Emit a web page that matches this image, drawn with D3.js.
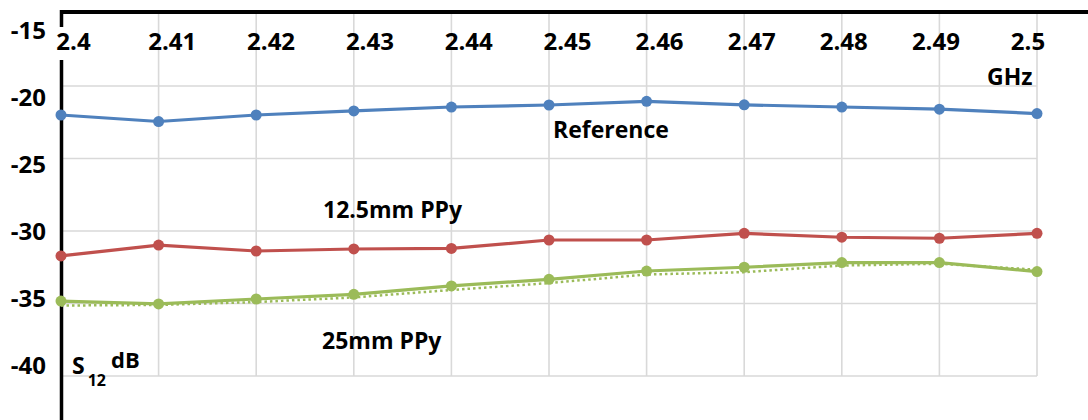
<!DOCTYPE html>
<html>
<head>
<meta charset="utf-8">
<script src="https://cdn.jsdelivr.net/npm/d3@7"></script>
<style>
  html, body { margin: 0; padding: 0; background: #fff; }
  svg { display: block; }
  text { font-family: "Open Sans", "Liberation Sans", sans-serif; font-weight: 700; fill: #000; }
</style>
</head>
<body>
<svg id="chart" width="1088" height="420"></svg>
<script>
// Frequency sweep (GHz) and S12 transmission (dB) for three samples
const freqs = [2.40, 2.41, 2.42, 2.43, 2.44, 2.45, 2.46, 2.47, 2.48, 2.49, 2.50];
const xTickLabels = ["2.4", "2.41", "2.42", "2.43", "2.44", "2.45", "2.46", "2.47", "2.48", "2.49", "2.5"];
const yTicks = [-15, -20, -25, -30, -35, -40];
const yTickLabels = ["-15", "-20", "-25", "-30", "-35", "-40"];

const reference = [-22.0, -22.45, -22.0, -21.72, -21.45, -21.31, -21.06, -21.3, -21.45, -21.6, -21.9];
const ppy12_5mm = [-31.72, -30.97, -31.38, -31.24, -31.2, -30.62, -30.62, -30.16, -30.43, -30.5, -30.16];
const ppy25mm = [-34.83, -35.03, -34.69, -34.37, -33.79, -33.33, -32.76, -32.5, -32.18, -32.18, -32.8];
const ppy25mmTrend = [-35.14, -35.1, -34.9, -34.58, -34.07, -33.59, -33.0, -32.84, -32.38, -32.26, -32.67];

const seriesLabels = ["Reference", "12.5mm PPy", "25mm PPy"];

const svg = d3.select("#chart");

const x = d3.scaleLinear().domain([2.4, 2.5]).range([61, 1037]);
const y = d3.scaleLinear().domain([-40, -15]).range([376, 13.5]);

// tick labels sit on their own, slightly tighter spacing
const xLabel = d3.scaleLinear().domain([2.4, 2.45, 2.5]).range([73.5, 567.5, 1028]);
const yLabel = d3.scaleLinear().domain([-40, -15]).range([365, 30]);

const grid = svg.append("g").attr("stroke", "#d9d9d9").attr("stroke-width", 1.6);
grid.selectAll("line.v").data(freqs).join("line")
  .attr("class", "v")
  .attr("x1", d => x(d)).attr("x2", d => x(d))
  .attr("y1", y(-15)).attr("y2", y(-40));
grid.selectAll("line.h").data(yTicks.filter(d => d !== -15)).join("line")
  .attr("class", "h")
  .attr("x1", x(2.4)).attr("x2", x(2.5))
  .attr("y1", d => y(d)).attr("y2", d => y(d));

// black frame lines
svg.append("line").attr("x1", 61.5).attr("x2", 1088).attr("y1", 12).attr("y2", 12)
  .attr("stroke", "#000").attr("stroke-width", 4);
svg.append("line").attr("x1", 61.5).attr("x2", 61.5).attr("y1", 10).attr("y2", 420)
  .attr("stroke", "#000").attr("stroke-width", 3.5);

// x tick labels (first one has a white backing that interrupts the axis)
const xt = svg.append("g").attr("font-size", 24);
xt.selectAll("text").data(freqs).join("text")
  .attr("x", d => xLabel(d)).attr("y", 50)
  .attr("text-anchor", "middle")
  .text((d, i) => xTickLabels[i]);
const first = xt.select("text").node().getBBox();
xt.insert("rect", "text")
  .attr("x", first.x - 3).attr("y", 27).attr("width", first.width + 5).attr("height", 33)
  .attr("fill", "#fff");

// y tick labels
svg.append("g").attr("font-size", 24).selectAll("text").data(yTicks).join("text")
  .attr("x", 46).attr("y", d => yLabel(d)).attr("dy", "0.36em")
  .attr("text-anchor", "end")
  .text((d, i) => yTickLabels[i]);

const line = d3.line().x((d, i) => x(freqs[i])).y(d => y(d));

// dotted trend for the 25mm sample
svg.append("path").datum(ppy25mmTrend)
  .attr("d", line).attr("fill", "none")
  .attr("stroke", "#9BBB59").attr("stroke-width", 2.5)
  .attr("stroke-dasharray", "2.5,3");

const series = [
  { values: reference, color: "#4F81BD" },
  { values: ppy12_5mm, color: "#C0504D" },
  { values: ppy25mm, color: "#9BBB59" }
];

series.forEach(s => {
  const g = svg.append("g");
  g.append("path").datum(s.values)
    .attr("d", line).attr("fill", "none")
    .attr("stroke", s.color).attr("stroke-width", 3.2)
    .attr("stroke-linejoin", "round");
  g.selectAll("circle").data(s.values).join("circle")
    .attr("cx", (d, i) => x(freqs[i])).attr("cy", d => y(d))
    .attr("r", 5.5).attr("fill", s.color);
});

// series names and axis units
const ann = svg.append("g").attr("font-size", 23);
ann.append("text").attr("x", 553).attr("y", 138).text(seriesLabels[0]);
ann.append("text").attr("x", 323).attr("y", 218).text(seriesLabels[1]);
ann.append("text").attr("x", 322).attr("y", 349).text(seriesLabels[2]);
ann.append("text").attr("x", 987).attr("y", 85).text("GHz");

const unit = svg.append("text").attr("x", 72).attr("y", 374).attr("font-size", 23);
unit.append("tspan").text("S");
unit.append("tspan").attr("font-size", 16).attr("dx", 3).attr("dy", 12).text("12");
unit.append("tspan").attr("font-size", 22).attr("dx", 5).attr("dy", -18).text("dB");
</script>
</body>
</html>
